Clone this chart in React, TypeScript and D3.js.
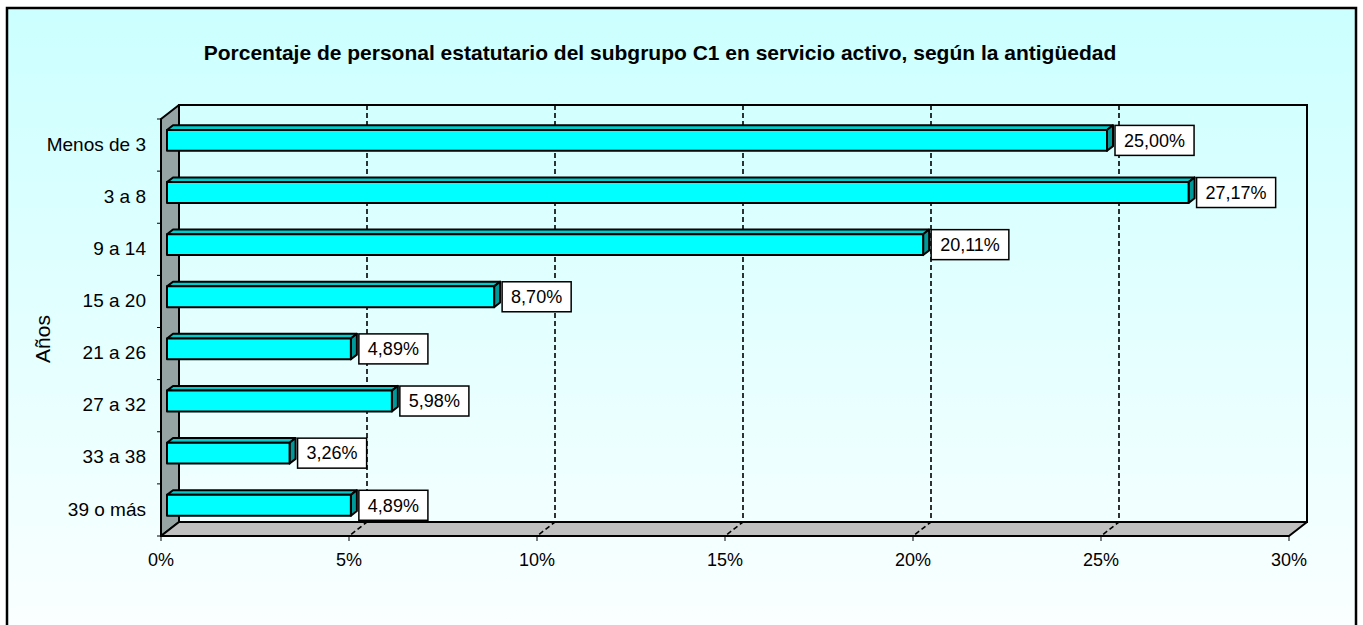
import React, { useRef, useEffect } from 'react';
import * as d3 from 'd3';

// Chart data
const categories = ['Menos de 3', '3 a 8', '9 a 14', '15 a 20', '21 a 26', '27 a 32', '33 a 38', '39 o más'];
const values = [25.0, 27.17, 20.11, 8.7, 4.89, 5.98, 3.26, 4.89];
const xTicks = [0, 5, 10, 15, 20, 25, 30];
const title = 'Porcentaje de personal estatutario del subgrupo C1 en servicio activo, según la antigüedad';
const axisTitle = 'Años';

const W = 1363;
const H = 625;
const FONT = '"Liberation Sans", Arial, sans-serif';

const App = () => {
  const ref = useRef<SVGSVGElement | null>(null);

  useEffect(() => {
    const svg = d3.select(ref.current);
    svg.selectAll('*').remove();

    // 3D depth offset of the walls
    const DX = 18;
    const DY = -14;
    const front = { left: 161, right: 1289, top: 119, bottom: 536 };

    const x = d3.scaleLinear().domain([0, 30]).range([front.left, front.right]);
    const y = d3.scaleBand<string>().domain(categories).range([front.top, front.bottom]);
    const barH = y.step() / 2.5; // gap width 150%

    // background gradient
    const defs = svg.append('defs');
    const grad = defs.append('linearGradient').attr('id', 'bg').attr('x1', 0).attr('y1', 0).attr('x2', 0).attr('y2', 1);
    grad.append('stop').attr('offset', '0%').attr('stop-color', '#CCFFFF');
    grad.append('stop').attr('offset', '100%').attr('stop-color', '#FFFFFF');

    svg.append('rect')
      .attr('x', 7).attr('y', 8).attr('width', 1349).attr('height', 680)
      .attr('fill', 'url(#bg)').attr('stroke', '#000').attr('stroke-width', 2.5);

    // title
    svg.append('text')
      .attr('x', 660).attr('y', 60)
      .attr('text-anchor', 'middle')
      .attr('font-family', FONT).attr('font-size', 21).attr('font-weight', 'bold')
      .text(title);

    // back wall
    svg.append('rect')
      .attr('x', front.left + DX).attr('y', front.top + DY)
      .attr('width', front.right - front.left).attr('height', front.bottom - front.top)
      .attr('fill', 'none').attr('stroke', '#000').attr('stroke-width', 2);

    // side wall
    svg.append('polygon')
      .attr('points', [
        [front.left, front.top], [front.left + DX, front.top + DY],
        [front.left + DX, front.bottom + DY], [front.left, front.bottom]
      ].map(p => p.join(',')).join(' '))
      .attr('fill', '#96A4A4').attr('stroke', '#000').attr('stroke-width', 2).attr('stroke-linejoin', 'round');

    // floor
    svg.append('polygon')
      .attr('points', [
        [front.left, front.bottom], [front.left + DX, front.bottom + DY],
        [front.right + DX, front.bottom + DY], [front.right, front.bottom]
      ].map(p => p.join(',')).join(' '))
      .attr('fill', '#C0C0C0').attr('stroke', '#000').attr('stroke-width', 2).attr('stroke-linejoin', 'round');

    // gridlines
    xTicks.filter(t => t > 0 && t < 30).forEach(t => {
      svg.append('path')
        .attr('d', `M${x(t) + DX},${front.top + DY}V${front.bottom + DY}L${x(t)},${front.bottom}`)
        .attr('fill', 'none').attr('stroke', '#000').attr('stroke-width', 1.6)
        .attr('stroke-dasharray', '5,3');
    });

    // y ticks
    d3.range(categories.length + 1).forEach(i => {
      const yy = front.top + i * y.step();
      svg.append('line')
        .attr('x1', front.left - 4).attr('x2', front.left)
        .attr('y1', yy).attr('y2', yy)
        .attr('stroke', '#000').attr('stroke-width', 1);
    });

    // x ticks + labels
    xTicks.forEach(t => {
      svg.append('line')
        .attr('x1', x(t)).attr('x2', x(t))
        .attr('y1', front.bottom).attr('y2', front.bottom + 5)
        .attr('stroke', '#000').attr('stroke-width', 1);
      svg.append('text')
        .attr('x', x(t)).attr('y', 566)
        .attr('text-anchor', 'middle')
        .attr('font-family', FONT).attr('font-size', 18)
        .text(`${t}%`);
    });

    // category labels
    categories.forEach(c => {
      svg.append('text')
        .attr('x', 146).attr('y', (y(c) as number) + y.step() / 2 - 1)
        .attr('dy', '0.35em')
        .attr('text-anchor', 'end')
        .attr('font-family', FONT).attr('font-size', 19)
        .text(c);
    });

    // axis title
    svg.append('text')
      .attr('transform', 'translate(43,339) rotate(-90)')
      .attr('dy', '0.35em')
      .attr('text-anchor', 'middle')
      .attr('font-family', FONT).attr('font-size', 21)
      .text(axisTitle);

    // bars (front face at 1/3 depth, back at 2/3)
    const fx = DX / 3, fy = DY / 3;
    const bars = svg.append('g');
    categories.forEach((c, i) => {
      const v = values[i];
      const cy = (y(c) as number) + y.step() / 2 + fy;
      const x0 = x(0) + fx;
      const x1 = x(v) + fx;
      const top = cy - barH / 2;
      const bot = cy + barH / 2;
      const g = bars.append('g')
        .attr('stroke', '#000').attr('stroke-width', 2).attr('stroke-linejoin', 'round');
      // top face
      g.append('polygon')
        .attr('points', [[x0, top], [x0 + fx, top + fy], [x1 + fx, top + fy], [x1, top]].map(p => p.join(',')).join(' '))
        .attr('fill', '#00CCCC');
      // side face
      g.append('polygon')
        .attr('points', [[x1, top], [x1 + fx, top + fy], [x1 + fx, bot + fy], [x1, bot]].map(p => p.join(',')).join(' '))
        .attr('fill', '#009999');
      // front face
      g.append('rect')
        .attr('x', x0).attr('y', top).attr('width', x1 - x0).attr('height', barH)
        .attr('fill', '#00FFFF');

      // value label
      const lbl = svg.append('g');
      const txt = lbl.append('text')
        .attr('font-family', FONT).attr('font-size', 18)
        .attr('dy', '0.35em')
        .text(`${v.toFixed(2).replace('.', ',')}%`);
      const tw = (txt.node() as SVGTextElement).getComputedTextLength();
      const bx = x1 + fx + 2;
      lbl.insert('rect', 'text')
        .attr('x', bx).attr('y', cy - 15).attr('width', tw + 18).attr('height', 30)
        .attr('fill', '#fff').attr('stroke', '#000').attr('stroke-width', 1.5);
      txt.attr('x', bx + 9).attr('y', cy);
    });
  }, []);

  return (
    <div style={{ position: 'absolute', left: 0, top: 0, width: W, height: H, overflow: 'hidden' }}>
      <svg ref={ref} width={W} height={H} />
    </div>
  );
};

export default App;
